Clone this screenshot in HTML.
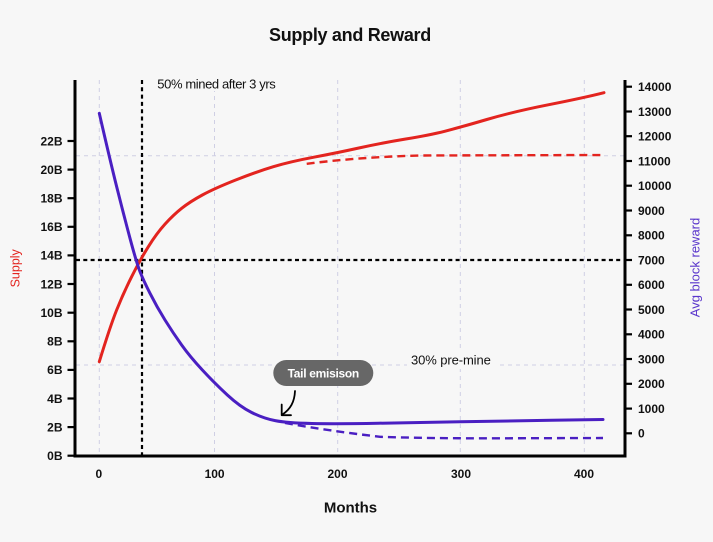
<!DOCTYPE html>
<html>
<head>
<meta charset="utf-8">
<style>
  html,body{margin:0;padding:0;background:#f7f7f7;}
  body{width:713px;height:542px;overflow:hidden;}
  svg{display:block;font-family:"Liberation Sans",sans-serif;}
</style>
</head>
<body>
<svg width="713" height="542" viewBox="0 0 713 542" xmlns="http://www.w3.org/2000/svg">
  <rect x="0" y="0" width="713" height="542" fill="#f7f7f7"/>

  <!-- Title -->
  <text x="350" y="41" text-anchor="middle" font-size="18" font-weight="bold" fill="#111" letter-spacing="-0.3">Supply and Reward</text>

  <!-- grid vertical -->
  <g stroke="#cfcfe4" stroke-width="1" stroke-dasharray="4,4" fill="none">
    <line x1="99.3" y1="80" x2="99.3" y2="455"/>
    <line x1="214.5" y1="80" x2="214.5" y2="455"/>
    <line x1="337.7" y1="80" x2="337.7" y2="455"/>
    <line x1="460.3" y1="80" x2="460.3" y2="455"/>
    <line x1="584.3" y1="80" x2="584.3" y2="455"/>
    <line x1="76" y1="155.7" x2="624" y2="155.7"/>
    <line x1="76" y1="365" x2="624" y2="365"/>
  </g>

  <!-- annotation text backgrounds -->
  <rect x="154" y="76" width="130" height="15" fill="#f7f7f7"/>
  <rect x="407" y="351" width="90" height="18" fill="#f7f7f7"/>

  <!-- black dashed reference lines -->
  <g stroke="#000" stroke-width="2.2" stroke-dasharray="4,3.3" fill="none">
    <line x1="142" y1="80" x2="142" y2="455"/>
    <line x1="76" y1="260" x2="624" y2="260"/>
  </g>

  <!-- red dashed -->
  <path d="M306.7,163.8 Q360,157 420,155.5 L605,155" fill="none" stroke="#e3241f" stroke-width="2.4" stroke-dasharray="8,5"/>

  <!-- red solid supply -->
  <path d="M99.3,361.7 Q110,326.7 116.65,310 Q123.3,293.3 131.65,276.65 Q140,260 148.35,246.65 Q156.7,233.3 165,224.15 Q173.3,215 181.65,208.35 Q190,201.7 202.35,195 Q214.7,188.3 235.7,180 Q256.7,171.7 273.35,166.7 Q290,161.7 313.85,157.2 Q337.7,152.7 358.85,148 Q380,143.3 405,139.15 Q430,135 445.15,131.15 Q460.3,127.3 486.8,119.5 Q513.3,111.7 548.8,104.7 Q584.3,97.7 604,92.7" fill="none" stroke="#e3241f" stroke-width="3" stroke-linecap="round" stroke-linejoin="round"/>

  <!-- purple dashed -->
  <path d="M285,423 Q330,431 380,436.8 Q430,438.5 500,438.3 L603,438" fill="none" stroke="#4a1fc2" stroke-width="2.4" stroke-dasharray="8,5"/>

  <!-- purple solid reward -->
  <path d="M99.3,113.3 Q110,160 116.65,186.65 Q123.3,213.3 130,238.3 Q136.7,263.3 140,271.65 Q143.3,280 150,293.35 Q156.7,306.7 165,320 Q173.3,333.3 181.65,345 Q190,356.7 202.35,370 Q214.7,383.3 227.35,395 Q240,406.7 251.65,412.5 Q263.3,418.3 275.15,420.65 Q287,423 312,423.5 Q337,424 378.5,423.25 Q420,422.5 460,421.75 Q500,421 551.5,420.25 L603,419.5" fill="none" stroke="#4a1fc2" stroke-width="3" stroke-linecap="round" stroke-linejoin="round"/>

  <!-- axes -->
  <g stroke="#000" stroke-width="3" fill="none">
    <line x1="75" y1="80" x2="75" y2="457.5"/>
    <line x1="625" y1="80" x2="625" y2="457.5"/>
    <line x1="73.5" y1="456" x2="626.5" y2="456"/>
  </g>

  <!-- left ticks -->
  <g stroke="#000" stroke-width="2.2">
    <line x1="67.5" y1="141" x2="75" y2="141"/>
    <line x1="67.5" y1="169.6" x2="75" y2="169.6"/>
    <line x1="67.5" y1="198.2" x2="75" y2="198.2"/>
    <line x1="67.5" y1="226.8" x2="75" y2="226.8"/>
    <line x1="67.5" y1="255.4" x2="75" y2="255.4"/>
    <line x1="67.5" y1="284" x2="75" y2="284"/>
    <line x1="67.5" y1="312.7" x2="75" y2="312.7"/>
    <line x1="67.5" y1="341.3" x2="75" y2="341.3"/>
    <line x1="67.5" y1="369.9" x2="75" y2="369.9"/>
    <line x1="67.5" y1="398.5" x2="75" y2="398.5"/>
    <line x1="67.5" y1="427.1" x2="75" y2="427.1"/>
    <line x1="67.5" y1="455.7" x2="75" y2="455.7"/>
  </g>
  <g font-size="12" font-weight="bold" fill="#111" text-anchor="end">
    <text x="62.5" y="145.3">22B</text>
    <text x="62.5" y="173.9">20B</text>
    <text x="62.5" y="202.5">18B</text>
    <text x="62.5" y="231.1">16B</text>
    <text x="62.5" y="259.7">14B</text>
    <text x="62.5" y="288.3">12B</text>
    <text x="62.5" y="317">10B</text>
    <text x="62.5" y="345.6">8B</text>
    <text x="62.5" y="374.2">6B</text>
    <text x="62.5" y="402.8">4B</text>
    <text x="62.5" y="431.4">2B</text>
    <text x="62.5" y="460">0B</text>
  </g>

  <!-- right ticks -->
  <g stroke="#000" stroke-width="2.2">
    <line x1="625" y1="86.7" x2="632" y2="86.7"/>
    <line x1="625" y1="111.5" x2="632" y2="111.5"/>
    <line x1="625" y1="136.2" x2="632" y2="136.2"/>
    <line x1="625" y1="161" x2="632" y2="161"/>
    <line x1="625" y1="185.7" x2="632" y2="185.7"/>
    <line x1="625" y1="210.5" x2="632" y2="210.5"/>
    <line x1="625" y1="235.3" x2="632" y2="235.3"/>
    <line x1="625" y1="260" x2="632" y2="260"/>
    <line x1="625" y1="284.8" x2="632" y2="284.8"/>
    <line x1="625" y1="309.5" x2="632" y2="309.5"/>
    <line x1="625" y1="334.3" x2="632" y2="334.3"/>
    <line x1="625" y1="359" x2="632" y2="359"/>
    <line x1="625" y1="383.8" x2="632" y2="383.8"/>
    <line x1="625" y1="408.6" x2="632" y2="408.6"/>
    <line x1="625" y1="433.3" x2="632" y2="433.3"/>
  </g>
  <g font-size="12" font-weight="bold" fill="#111" text-anchor="start">
    <text x="638" y="91">14000</text>
    <text x="638" y="115.8">13000</text>
    <text x="638" y="140.5">12000</text>
    <text x="638" y="165.3">11000</text>
    <text x="638" y="190">10000</text>
    <text x="638" y="214.8">9000</text>
    <text x="638" y="239.6">8000</text>
    <text x="638" y="264.3">7000</text>
    <text x="638" y="289.1">6000</text>
    <text x="638" y="313.8">5000</text>
    <text x="638" y="338.6">4000</text>
    <text x="638" y="363.3">3000</text>
    <text x="638" y="388.1">2000</text>
    <text x="638" y="412.9">1000</text>
    <text x="638" y="437.6">0</text>
  </g>

  <!-- x tick labels -->
  <g font-size="12" font-weight="bold" fill="#111" text-anchor="middle">
    <text x="98.8" y="478">0</text>
    <text x="214.6" y="478">100</text>
    <text x="337.5" y="478">200</text>
    <text x="461" y="478">300</text>
    <text x="584" y="478">400</text>
  </g>

  <!-- axis titles -->
  <text x="350.5" y="512.5" text-anchor="middle" font-size="15" font-weight="bold" fill="#111">Months</text>
  <text transform="translate(19.5,268.3) rotate(-90)" text-anchor="middle" font-size="12.5" fill="#e3241f">Supply</text>
  <text transform="translate(699.5,267.5) rotate(-90)" text-anchor="middle" font-size="13" fill="#5a36cc">Avg block reward</text>

  <!-- annotations -->
  <text x="157.3" y="88.5" font-size="13" fill="#111" letter-spacing="-0.4">50% mined after 3 yrs</text>
  <text x="411" y="364.5" font-size="13" fill="#111" letter-spacing="-0.1">30% pre-mine</text>

  <rect x="273.3" y="360" width="100" height="26" rx="13" ry="13" fill="#676767"/>
  <text x="323.3" y="377.3" text-anchor="middle" font-size="12" font-weight="bold" fill="#ffffff" letter-spacing="-0.3">Tail emisison</text>

  <!-- arrow -->
  <path d="M295,391 C294.5,402 290.5,409 282.5,414.5" fill="none" stroke="#000" stroke-width="1.8" stroke-linecap="round"/>
  <path d="M281.7,404.5 L281.7,415.2 L291,415.2" fill="none" stroke="#000" stroke-width="1.8" stroke-linecap="round" stroke-linejoin="round"/>
</svg>
</body>
</html>
